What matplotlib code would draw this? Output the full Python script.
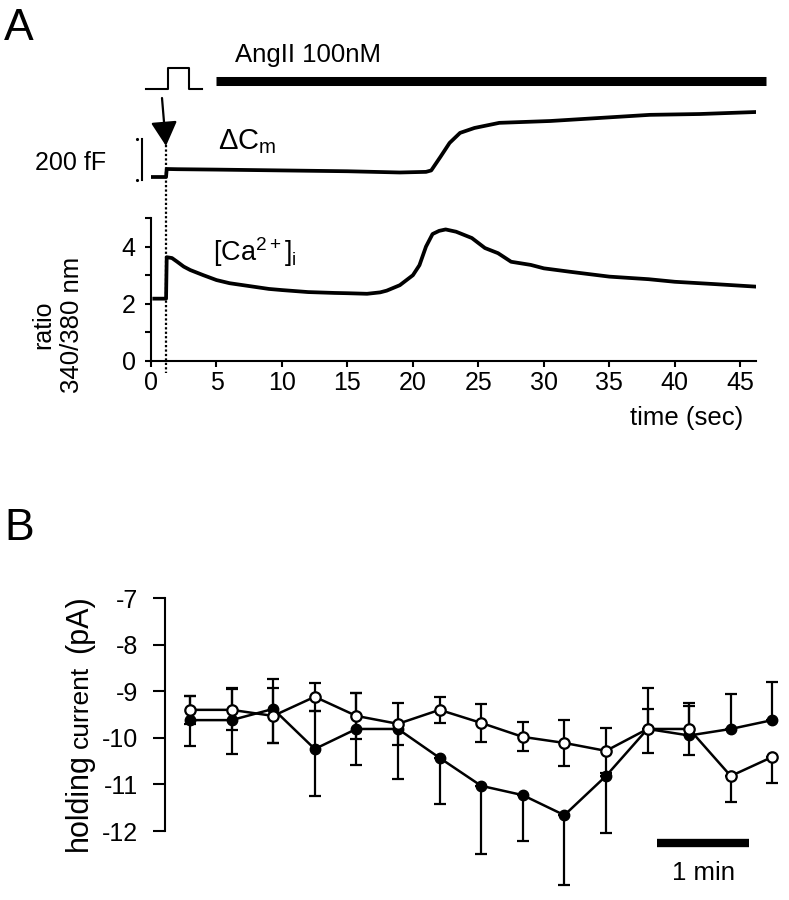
import numpy as np
import matplotlib.pyplot as plt
import matplotlib.transforms as mtransforms

plt.rcParams['font.family'] = ['Liberation Sans', 'DejaVu Sans']
plt.rcParams['mathtext.fontset'] = 'custom'
plt.rcParams['mathtext.rm'] = 'Liberation Sans'
plt.rcParams['mathtext.it'] = 'Liberation Sans:italic'

# ---- panel A: fura-2 ratio trace (time in s, ratio 340/380)
ca_time = [0.25, 1.15, 1.2, 1.6, 2.0, 2.5, 3.0, 4.0, 5.0, 6.0, 7.5, 9.0, 10.0, 12.0,
           14.0, 15.0, 16.5, 17.5, 18.0, 19.0, 20.0, 20.5, 21.0, 21.5, 22.0, 22.5,
           23.3, 24.5, 25.5, 26.5, 27.5, 29.0, 30.0, 32.0, 35.0, 38.0, 40.0, 43.0, 46.2]
ca_ratio = [2.18, 2.18, 3.63, 3.6, 3.47, 3.3, 3.18, 3.0, 2.83, 2.72, 2.62, 2.52, 2.48, 2.41,
            2.38, 2.37, 2.35, 2.4, 2.46, 2.65, 3.0, 3.35, 4.0, 4.44, 4.55, 4.6,
            4.52, 4.3, 3.95, 3.77, 3.47, 3.36, 3.24, 3.12, 2.95, 2.86, 2.77, 2.69, 2.6]

# ---- panel A: capacitance trace (time in s, delta Cm in fF)
cm_time = [0.1, 1.15, 1.2, 2.0, 5.0, 10.0, 15.0, 19.0, 21.0, 21.4, 22.1, 22.8, 23.6,
           24.7, 26.6, 30.5, 34.3, 38.1, 41.9, 46.3]
cm_ff = [0, 0, 39, 38, 36, 32, 28, 22, 25, 32, 98, 166, 215,
         239, 264, 273, 288, 303, 307, 317]

stim_time = 1.15
ang_start, ang_end = 5.0, 47.0

# ---- panel B: holding current (pA), one point per sample
b_time = [0.0, 0.45, 0.9, 1.35, 1.8, 2.25, 2.7, 3.15, 3.6, 4.05, 4.5, 4.95, 5.4, 5.85, 6.3]
filled_mean = [-9.62, -9.62, -9.38, -10.24, -9.81, -9.81, -10.43, -11.03, -11.23, -11.66,
               -10.82, -9.81, -9.95, -9.81, -9.62]
filled_lo = [0.55, 0.72, 0.74, 1.01, 0.77, 1.07, 0.98, 1.47, 0.98, 1.5, 1.23, 0, 0, 0, 0]
filled_hi = [0.51, 0.69, 0.64, 0.82, 0.77, 0, 0, 0, 0, 0, 0, 0.88, 0.7, 0.74, 0.82]
open_mean = [-9.40, -9.40, -9.53, -9.12, -9.53, -9.70, -9.40, -9.68, -9.98, -10.11,
             -10.28, -9.81, -9.81, -10.82, -10.41]
open_lo = [0.3, 0.44, 0.59, 0.3, 0.49, 0.45, 0.28, 0.4, 0.31, 0.5, 0.48, 0.51, 0.55, 0.56, 0.56]
open_hi = [0.3, 0.44, 0.59, 0.3, 0.49, 0.45, 0.28, 0.4, 0.31, 0.5, 0.48, 0.43, 0.5, 0, 0]

W, H = 789, 900
fig = plt.figure(figsize=(W / 100, H / 100), dpi=100)


def px_axes(x0, y0, x1, y1):
    return fig.add_axes([x0 / W, 1 - y1 / H, (x1 - x0) / W, (y1 - y0) / H])


# overlay in pixel coordinates for labels and annotations
ov = fig.add_axes([0, 0, 1, 1], zorder=5)
ov.set_xlim(0, W)
ov.set_ylim(H, 0)
ov.axis('off')

# ---- calcium axes
ax = px_axes(151, 218, 756, 361)
ax.plot(ca_time, ca_ratio, color='k', lw=2.7, solid_joinstyle='round')
ax.set_xlim(0, 46.2)
ax.set_ylim(0, 5)
for s in ['top', 'right']:
    ax.spines[s].set_visible(False)
for s in ['left', 'bottom']:
    ax.spines[s].set_linewidth(1.5)
ax.set_xticks(np.arange(0, 46, 5))
ax.set_yticks([0, 1, 2, 3, 4, 5])
ax.set_yticklabels(['0', '', '2', '', '4', ''])
ax.tick_params(axis='x', length=4.5, width=1.5, labelsize=18, pad=3)
ax.tick_params(axis='y', length=4, width=1.5, labelsize=18, pad=7)
ax.patch.set_visible(False)

# ---- capacitance axes (same time scale)
axc = px_axes(151, 110, 756, 190)
axc.plot(cm_time, cm_ff, color='k', lw=2.7, solid_joinstyle='round')
axc.set_xlim(0, 46.2)
axc.set_ylim(-63.4, 326.6)
axc.axis('off')
# 200 fF scale bar
axc.plot([-0.69, -0.69], [-15, 185], color='k', lw=1.5, clip_on=False)
axc.plot([-1.07, -1.07], [-15, 185], 'k.', ms=2.5, clip_on=False)

tr = mtransforms.blended_transform_factory(ax.transData, ov.transData)
# stimulus pulse, AngII bar, arrow, dotted line
ov.plot([-0.4, 1.3, 1.3, 2.9, 2.9, 3.9], [89, 89, 68, 68, 89, 89], color='k', lw=1.5,
        transform=tr)
ov.plot([ang_start, ang_end], [80.5, 80.5], color='k', lw=6.5, solid_capstyle='butt',
        transform=tr)
ov.plot([stim_time, stim_time], [145, 373], color='k', lw=1.6, ls=(0, (1, 1)), transform=tr)
ov.annotate('', xy=(166, 146), xytext=(162, 98),
            arrowprops=dict(arrowstyle='-|>,head_length=0.5,head_width=0.27',
                            mutation_scale=30, lw=1.6, color='k', shrinkA=0, shrinkB=0))

ov.text(4, 28, 'A', fontsize=32, va='center', ha='left')
ov.text(235, 55, 'AngII 100nM', fontsize=18.5, va='center', ha='left')
ov.text(218, 142, 'ΔC$_\\mathrm{m}$', fontsize=21, va='center', ha='left')
ov.text(35, 163, '200 fF', fontsize=18, va='center', ha='left')
ov.text(213, 252, '[Ca$^{2+}$]$_\\mathrm{i}$', fontsize=19.5, va='center', ha='left')
ov.text(43, 325, 'ratio', fontsize=18, rotation=90, va='center', ha='center')
ov.text(72, 325, '340/380 nm', fontsize=18.5, rotation=90, va='center', ha='center')
ov.text(743, 418, 'time (sec)', fontsize=18.5, va='center', ha='right')

# ---- panel B
axb = px_axes(165, 598, 789, 900)
axb.errorbar(b_time, filled_mean, yerr=[filled_lo, filled_hi], fmt='-o', color='k',
             mfc='k', mec='k', ms=7.5, lw=1.8, elinewidth=1.6, capsize=4, capthick=1.6,
             clip_on=False, zorder=3)
axb.errorbar(b_time, open_mean, yerr=[open_lo, open_hi], fmt='-o', color='k',
             mfc='white', mec='k', mew=1.6, ms=7.5, lw=1.8, elinewidth=1.6, capsize=4,
             capthick=1.6, clip_on=False, zorder=4)
axb.set_xlim(-0.27, 6.48)
axb.set_ylim(-13.48, -7)
for s in ['top', 'right', 'bottom']:
    axb.spines[s].set_visible(False)
axb.spines['left'].set_linewidth(1.5)
axb.spines['left'].set_bounds(-12, -7)
axb.set_xticks([])
axb.set_yticks([-7, -8, -9, -10, -11, -12])
axb.set_yticklabels(['-7', '-8', '-9', '-10', '-11', '-12'])
axb.tick_params(axis='y', length=8.5, width=1.5, labelsize=18, pad=11)
axb.patch.set_visible(False)
# 1 min scale bar
axb.plot([5.05, 6.05], [-12.26, -12.26], color='k', lw=6, solid_capstyle='butt', clip_on=False)
axb.text(5.55, -12.9, '1 min', fontsize=18.5, ha='center', va='center')

ov.text(4, 528, 'B', fontsize=32, va='center', ha='left')
ov.text(79, 802, 'holding', fontsize=22, rotation=90, va='center', ha='center')
ov.text(81, 707, 'current', fontsize=19, rotation=90, va='center', ha='center')
ov.text(79, 624, '(pA)', fontsize=22, rotation=90, va='center', ha='center')

fig.savefig('out.png', dpi=100)
